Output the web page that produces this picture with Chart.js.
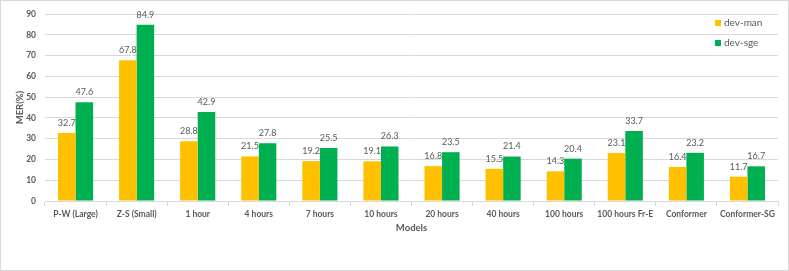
<!DOCTYPE html>
<html>
<head>
<meta charset="utf-8">
<script src="https://cdn.jsdelivr.net/npm/chart.js@4/dist/chart.umd.min.js"></script>
<style>
html,body{margin:0;padding:0;background:#fff;}
#wrap{position:relative;width:789px;height:271px;}
canvas{display:block;}
</style>
</head>
<body>
<div id="wrap"><canvas id="c" width="789" height="271"></canvas></div>
<script>
const categories = ["P-W (Large)","Z-S (Small)","1 hour","4 hours","7 hours","10 hours","20 hours","40 hours","100 hours","100 hours Fr-E","Conformer","Conformer-SG"];
const devMan = [32.7,67.8,28.8,21.5,19.2,19.1,16.8,15.5,14.3,23.1,16.4,11.7];
const devSge = [47.6,84.9,42.9,27.8,25.5,26.3,23.5,21.4,20.4,33.7,23.2,16.7];
const yTicks = [0,10,20,30,40,50,60,70,80,90];

const FONT = "Lato, 'Open Sans', sans-serif";
const TXT = '#595959';

const frame = {
  id:'frame',
  afterDraw(chart){
    const c = chart.ctx;
    c.save();
    c.strokeStyle = '#d9d9d9';
    c.lineWidth = 1;
    c.strokeRect(0.5,0.5,chart.width-1,chart.height-1);
    c.restore();
  }
};

const valueLabels = {
  id:'valueLabels',
  afterDatasetsDraw(chart){
    const c = chart.ctx;
    c.save();
    c.font = "9px " + FONT;
    c.fillStyle = TXT;
    c.textAlign = 'center';
    c.textBaseline = 'middle';
    chart.data.datasets.forEach((ds,i)=>{
      chart.getDatasetMeta(i).data.forEach((bar,j)=>{
        c.fillText(ds.data[j].toFixed(1), bar.x, bar.y - 10);
      });
    });
    c.restore();
  }
};

const legendBox = {
  id:'legendBox',
  afterDraw(chart){
    const c = chart.ctx;
    c.save();
    c.font = "10px " + FONT;
    c.textBaseline = 'middle';
    c.textAlign = 'left';
    chart.data.datasets.forEach((ds,i)=>{
      const y = 23 + i*20;
      c.fillStyle = ds.backgroundColor;
      c.fillRect(715, y-3, 6, 6);
      c.fillStyle = TXT;
      c.fillText(ds.label, 724, y);
    });
    c.restore();
  }
};

new Chart(document.getElementById('c'), {
  type:'bar',
  data:{
    labels:categories,
    datasets:[
      {label:'dev-man', data:devMan, backgroundColor:'#FFC000', categoryPercentage:0.575, barPercentage:1.0},
      {label:'dev-sge', data:devSge, backgroundColor:'#00B050', categoryPercentage:0.575, barPercentage:1.0}
    ]
  },
  options:{
    responsive:false,
    animation:false,
    layout:{padding:{left:0,right:11,top:7,bottom:0}},
    plugins:{legend:{display:false},tooltip:{enabled:false}},
    scales:{
      x:{
        grid:{drawOnChartArea:false,drawTicks:true,tickLength:5,color:'#d9d9d9',offset:true},
        border:{color:'#d9d9d9'},
        ticks:{color:TXT,font:{family:FONT,size:8.5,weight:'bold'},padding:3,maxRotation:0,autoSkip:false},
        title:{display:true,text:'Models',color:TXT,font:{family:FONT,size:9.5,weight:'bold'},padding:{top:4,bottom:37}},
        afterFit(s){s.height=70;}
      },
      y:{
        min:0,max:90,
        afterBuildTicks(s){s.ticks = yTicks.map(v=>({value:v}));},
        grid:{color:'#d9d9d9',drawTicks:false},
        border:{display:false},
        ticks:{color:TXT,font:{family:FONT,size:8.5,weight:'bold'},padding:9},
        title:{display:true,text:'MER(%)',color:TXT,font:{family:FONT,size:9.5,weight:'bold'},padding:{top:14,bottom:0}},
        afterFit(s){s.width=45;}
      }
    }
  },
  plugins:[valueLabels,legendBox,frame]
});
</script>
</body>
</html>
